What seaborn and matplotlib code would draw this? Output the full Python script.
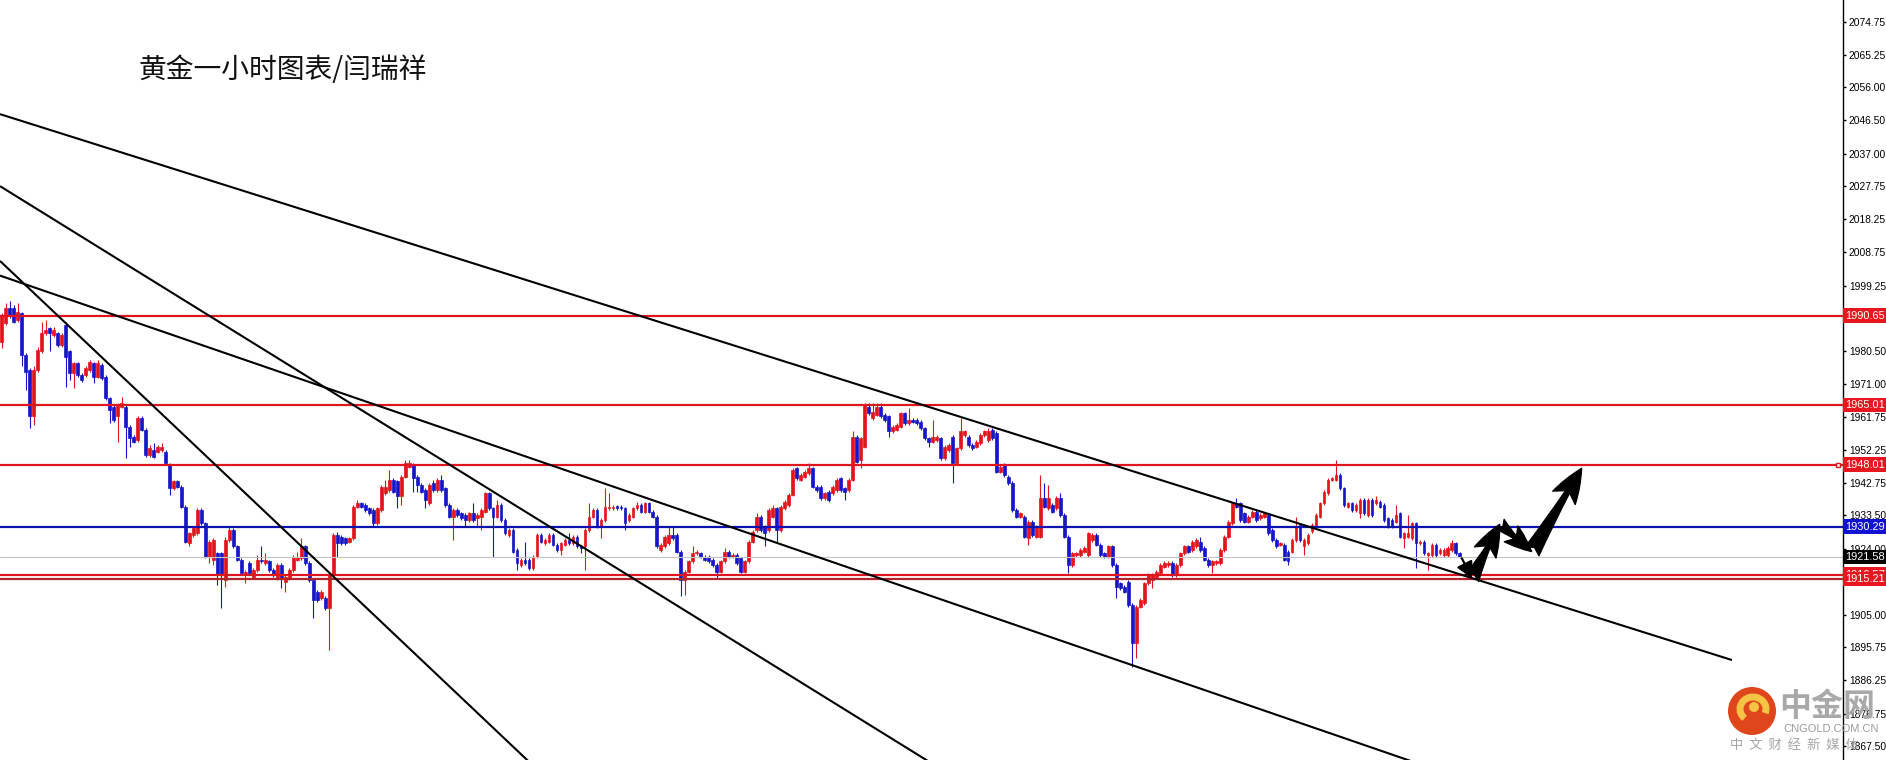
import numpy as np
import matplotlib
matplotlib.use("Agg")
import matplotlib.pyplot as plt
import seaborn as sns
from matplotlib.patches import FancyArrowPatch, Ellipse, Arc
from matplotlib.transforms import blended_transform_factory

# ---------------- data (XAUUSD 1h candles) ----------------
opens = [1983.2,1988.5,1992.7,1992.7,1989.4,1991.3,1979.4,1975.1,1961.8,1975.1,
1980.4,1985.6,1987.0,1985.1,1985.6,1982.3,1988.0,1980.4,1974.2,1977.0,
1973.7,1973.7,1975.1,1977.0,1973.2,1976.5,1973.2,1967.0,1964.6,1961.8,
1964.6,1964.6,1958.9,1956.0,1955.1,1961.3,1957.9,1950.8,1952.2,1951.7,
1952.2,1951.7,1947.9,1941.2,1943.2,1941.7,1936.0,1925.5,1927.9,1928.4,
1935.0,1931.2,1921.7,1920.7,1922.6,1922.6,1915.0,1926.5,1929.3,1924.6,
1920.7,1916.5,1919.8,1916.0,1917.9,1920.7,1919.8,1920.3,1917.9,1915.5,
1919.3,1914.5,1915.5,1917.9,1920.7,1921.2,1924.6,1919.8,1915.0,1911.7,
1909.8,1909.8,1906.9,1916.5,1927.9,1927.4,1926.9,1926.0,1926.9,1936.0,
1937.0,1936.5,1935.5,1935.0,1931.2,1935.0,1939.8,1940.8,1943.6,1943.2,
1938.9,1944.6,1947.4,1947.9,1944.6,1942.2,1940.8,1937.0,1942.7,1940.8,
1943.6,1941.2,1936.5,1933.1,1935.0,1934.1,1933.6,1932.2,1934.1,1932.7,
1933.1,1934.6,1939.8,1935.5,1933.1,1936.5,1932.2,1927.9,1929.3,1923.6,
1919.3,1920.7,1920.7,1918.4,1921.7,1927.9,1925.5,1926.0,1927.9,1925.0,
1923.6,1925.0,1926.5,1925.5,1927.4,1924.6,1924.6,1929.3,1933.1,1935.0,
1930.3,1932.2,1935.5,1935.5,1936.2,1936.0,1935.5,1932.2,1933.1,1935.5,
1936.5,1934.6,1937.0,1934.6,1933.1,1923.6,1924.6,1925.5,1927.9,1927.9,
1923.1,1915.0,1917.4,1920.3,1922.6,1922.6,1921.7,1921.7,1920.7,1919.3,
1917.4,1920.3,1923.1,1921.7,1922.2,1921.2,1917.4,1920.3,1926.0,1929.3,
1933.1,1930.3,1929.3,1933.1,1935.5,1929.3,1935.5,1936.5,1939.3,1947.0,
1943.6,1944.6,1945.5,1947.0,1941.7,1941.7,1938.4,1940.3,1939.8,1940.8,
1944.1,1941.2,1940.8,1943.6,1956.0,1949.4,1953.2,1964.6,1961.3,1962.2,
1964.6,1962.2,1961.8,1957.5,1957.9,1958.9,1962.7,1959.8,1960.8,1960.8,
1960.3,1958.4,1955.6,1954.6,1955.1,1955.6,1949.8,1952.2,1956.0,1948.4,
1952.7,1956.5,1956.0,1953.6,1953.2,1954.1,1956.5,1955.1,1957.9,1957.0,
1946.0,1947.9,1944.6,1942.7,1935.0,1933.1,1933.1,1926.9,1931.7,1927.4,
1927.4,1938.4,1935.5,1936.5,1935.5,1938.4,1933.6,1927.4,1919.3,1922.2,
1922.2,1923.1,1922.2,1926.5,1927.9,1925.0,1922.6,1921.7,1924.6,1919.3,
1914.1,1913.1,1914.5,1907.9,1896.9,1907.4,1908.3,1914.1,1915.0,1916.0,
1916.9,1918.8,1919.3,1919.8,1916.5,1919.3,1922.6,1924.6,1923.6,1924.6,
1926.0,1924.1,1920.7,1919.3,1919.8,1919.8,1923.6,1927.4,1931.2,1937.0,
1937.0,1934.1,1931.7,1933.1,1934.6,1932.7,1933.1,1933.6,1929.3,1926.5,
1925.0,1925.0,1923.1,1923.1,1926.5,1930.8,1924.6,1925.5,1928.9,1930.3,
1933.1,1936.9,1939.8,1943.6,1943.6,1945.1,1941.2,1936.0,1937.0,1935.0,
1934.1,1937.9,1933.6,1937.9,1936.9,1937.4,1936.5,1932.7,1932.2,1931.7,
1934.1,1926.9,1927.4,1926.9,1931.2,1925.5,1926.0,1922.2,1922.2,1925.0,
1922.6,1922.2,1922.2,1923.6,1925.5,1922.6]

highs = [1991.3,1994.2,1994.7,1993.7,1994.2,1991.8,1979.9,1975.6,1976.1,1981.8,
1988.9,1989.4,1987.5,1987.5,1986.1,1985.6,1988.9,1980.8,1977.5,1977.5,
1974.2,1976.1,1978.0,1977.5,1978.0,1977.0,1973.7,1967.5,1965.1,1965.6,
1967.5,1965.1,1959.4,1956.5,1961.8,1961.8,1958.4,1953.6,1954.1,1953.6,
1954.1,1952.2,1948.4,1943.6,1943.6,1942.2,1936.5,1928.8,1930.3,1935.5,
1935.5,1931.7,1926.5,1926.9,1923.1,1923.1,1927.4,1930.3,1929.8,1925.0,
1921.2,1917.9,1920.3,1918.4,1922.2,1924.6,1922.6,1920.7,1918.4,1919.8,
1919.8,1916.5,1918.4,1922.2,1923.1,1926.9,1925.0,1920.3,1915.5,1912.2,
1912.2,1910.3,1916.9,1928.4,1928.8,1927.9,1927.4,1927.4,1936.5,1937.9,
1937.4,1937.0,1936.0,1935.5,1936.0,1942.2,1943.6,1946.5,1944.1,1943.6,
1945.1,1949.4,1949.4,1948.4,1945.1,1942.7,1941.2,1942.7,1943.6,1944.1,
1945.1,1941.7,1937.0,1935.5,1935.5,1934.6,1934.1,1934.6,1937.0,1934.1,
1935.5,1940.3,1940.3,1936.0,1937.9,1937.0,1932.7,1929.8,1929.8,1924.1,
1921.2,1926.0,1921.2,1922.2,1928.4,1928.4,1926.9,1928.4,1928.4,1925.5,
1926.0,1926.9,1928.4,1927.9,1927.9,1925.0,1929.8,1937.0,1935.5,1935.5,
1932.7,1941.2,1939.8,1936.5,1936.5,1936.5,1936.0,1934.1,1936.0,1937.4,
1937.0,1937.4,1937.4,1935.0,1933.6,1925.5,1927.9,1930.3,1930.3,1928.4,
1923.6,1917.9,1920.7,1924.6,1923.6,1923.1,1922.2,1922.2,1921.2,1919.8,
1920.7,1924.1,1923.6,1922.6,1922.6,1921.7,1920.7,1926.5,1929.3,1934.1,
1933.6,1930.8,1935.5,1936.5,1936.0,1936.5,1937.9,1939.8,1947.0,1947.4,
1945.5,1946.5,1948.4,1947.4,1942.2,1942.2,1940.3,1940.8,1942.2,1944.1,
1944.6,1941.7,1944.1,1957.5,1956.5,1956.0,1965.6,1965.6,1965.6,1965.6,
1965.6,1962.7,1962.2,1959.4,1959.8,1963.2,1963.2,1964.1,1961.3,1961.3,
1960.8,1958.9,1956.0,1960.8,1956.5,1956.0,1953.6,1954.1,1956.5,1953.2,
1961.3,1957.9,1956.5,1954.1,1955.1,1957.0,1957.9,1958.4,1958.4,1957.5,
1947.9,1948.4,1945.1,1943.2,1935.5,1934.6,1933.6,1932.2,1932.2,1930.8,
1945.1,1942.7,1942.2,1937.0,1938.9,1939.8,1934.1,1927.9,1923.1,1923.1,
1924.1,1924.6,1928.8,1928.4,1928.4,1925.5,1923.1,1925.0,1925.0,1919.8,
1914.5,1913.6,1915.0,1908.3,1907.9,1909.8,1914.5,1916.9,1916.9,1917.9,
1919.8,1920.3,1920.3,1920.3,1919.8,1923.1,1925.0,1925.0,1926.5,1926.9,
1927.4,1924.6,1921.2,1920.7,1920.7,1924.1,1927.9,1932.2,1937.4,1938.4,
1937.4,1934.6,1933.6,1935.0,1935.0,1934.1,1934.6,1934.1,1929.8,1926.9,
1926.0,1925.5,1923.6,1926.9,1933.1,1931.2,1926.9,1928.4,1931.2,1934.1,
1937.4,1940.8,1944.1,1944.6,1949.4,1945.5,1941.7,1937.4,1937.4,1936.9,
1938.4,1938.4,1938.4,1938.4,1938.9,1937.9,1936.9,1933.1,1932.7,1936.5,
1934.6,1928.8,1933.6,1931.7,1931.7,1926.5,1926.5,1923.1,1925.5,1925.5,
1924.1,1924.1,1924.6,1926.5,1926.0,1923.1]

lows = [1981.3,1988.0,1989.9,1988.5,1988.9,1976.1,1969.4,1958.4,1959.4,1974.6,
1979.9,1985.1,1980.4,1984.6,1981.8,1981.8,1970.3,1972.2,1969.9,1973.2,
1971.8,1973.2,1974.6,1971.3,1972.7,1972.2,1966.5,1959.8,1960.3,1954.6,
1964.1,1949.8,1953.2,1954.1,1954.6,1957.5,1950.3,1950.3,1949.8,1951.3,
1951.7,1947.9,1939.3,1940.8,1941.2,1935.5,1925.5,1924.6,1927.4,1927.9,
1930.8,1921.2,1919.8,1919.3,1913.6,1906.9,1913.1,1926.0,1924.1,1920.3,
1916.5,1914.1,1916.5,1915.5,1917.4,1919.8,1919.3,1917.4,1916.0,1915.0,
1912.6,1911.7,1915.0,1917.4,1920.3,1920.7,1919.3,1914.5,1904.1,1908.8,
1909.3,1906.4,1895.0,1916.0,1921.7,1925.0,1925.0,1925.5,1926.5,1935.5,
1935.5,1934.6,1933.6,1930.3,1930.8,1934.6,1939.3,1940.3,1939.8,1935.5,
1936.5,1944.1,1947.0,1940.3,1940.3,1939.8,1935.5,1936.5,1940.3,1940.3,
1940.3,1936.0,1932.7,1926.5,1933.1,1932.2,1930.3,1931.7,1931.7,1930.3,
1929.3,1934.1,1935.0,1921.7,1932.7,1931.7,1927.9,1927.4,1922.6,1917.9,
1918.8,1919.3,1917.9,1917.9,1921.2,1925.5,1925.0,1925.5,1924.6,1923.1,
1922.2,1924.6,1925.0,1925.0,1924.1,1922.6,1917.9,1928.8,1932.7,1929.8,
1926.9,1931.7,1935.0,1935.0,1935.0,1935.0,1929.3,1931.7,1932.7,1935.0,
1934.1,1934.1,1934.1,1932.7,1924.1,1923.1,1924.1,1925.0,1926.5,1922.6,
1910.3,1910.7,1916.9,1919.8,1922.2,1921.2,1920.3,1919.8,1918.8,1915.5,
1916.9,1919.8,1921.2,1921.2,1919.3,1916.9,1916.9,1919.8,1925.5,1928.8,
1928.8,1924.6,1928.8,1932.7,1925.5,1928.8,1935.0,1936.0,1938.9,1943.6,
1943.2,1944.1,1945.1,1941.2,1940.3,1937.9,1937.9,1937.4,1939.3,1940.3,
1940.3,1937.9,1940.3,1943.2,1948.4,1947.0,1952.7,1962.2,1960.8,1961.8,
1961.3,1960.3,1956.0,1957.0,1957.5,1958.4,1959.4,1959.4,1959.8,1959.4,
1957.9,1955.1,1953.2,1954.1,1954.6,1949.4,1949.4,1951.7,1942.7,1947.9,
1952.2,1956.0,1953.2,1952.2,1952.7,1953.6,1956.0,1954.6,1955.1,1945.5,
1945.5,1944.6,1942.2,1934.6,1932.7,1932.7,1926.9,1925.0,1927.4,1926.9,
1926.9,1935.5,1935.0,1934.1,1935.0,1933.1,1926.9,1916.9,1918.8,1921.7,
1921.7,1922.6,1921.7,1926.0,1924.6,1921.7,1921.2,1921.2,1918.8,1909.8,
1912.2,1911.2,1907.4,1890.2,1892.6,1906.9,1907.9,1913.6,1912.6,1915.5,
1916.5,1918.4,1918.8,1916.0,1916.0,1918.8,1922.2,1922.6,1923.1,1924.1,
1923.1,1920.3,1918.8,1916.9,1919.3,1919.3,1923.1,1926.9,1930.8,1935.5,
1931.7,1931.2,1931.2,1932.7,1931.7,1932.2,1932.7,1927.9,1926.0,1924.1,
1924.6,1920.3,1919.3,1922.6,1926.0,1926.0,1922.2,1925.0,1928.4,1929.8,
1932.7,1936.5,1939.3,1943.2,1943.2,1940.8,1936.0,1935.5,1934.6,1934.6,
1932.7,1933.6,1933.1,1933.1,1936.5,1935.5,1931.7,1929.8,1929.8,1931.2,
1926.9,1924.1,1926.9,1926.5,1918.4,1925.0,1922.2,1917.9,1921.7,1921.7,
1922.2,1921.7,1921.7,1923.1,1922.2,1921.2]

closes = [1990.4,1992.7,1990.4,1988.9,1991.8,1979.4,1974.6,1961.8,1975.1,1980.8,
1985.6,1986.6,1985.6,1986.6,1982.3,1985.1,1978.9,1974.2,1977.0,1973.7,
1972.2,1975.6,1977.5,1973.2,1977.0,1972.7,1967.0,1963.7,1960.8,1965.1,
1965.6,1958.9,1955.6,1954.6,1961.3,1957.9,1950.8,1952.7,1950.3,1953.2,
1953.2,1948.4,1941.2,1943.2,1941.7,1936.0,1926.0,1928.4,1929.8,1935.0,
1931.2,1921.7,1926.0,1926.5,1916.5,1916.5,1926.5,1929.3,1924.6,1920.7,
1916.9,1917.4,1916.9,1917.9,1920.7,1920.3,1920.7,1917.9,1916.5,1919.3,
1915.5,1916.0,1917.9,1921.7,1921.7,1924.6,1919.8,1915.0,1909.3,1909.3,
1911.7,1906.9,1916.5,1927.9,1925.5,1925.5,1925.5,1926.9,1936.0,1937.0,
1936.0,1935.0,1934.1,1931.2,1935.5,1941.7,1941.7,1943.6,1940.3,1938.9,
1944.6,1948.4,1948.4,1944.1,1942.2,1940.3,1937.9,1942.2,1940.8,1943.6,
1940.8,1936.5,1933.1,1935.0,1933.6,1932.7,1932.2,1934.1,1932.2,1933.6,
1935.0,1939.8,1935.5,1933.1,1936.5,1932.2,1928.4,1929.3,1923.1,1919.8,
1920.7,1919.8,1918.4,1921.7,1927.9,1926.0,1926.5,1927.9,1925.0,1923.6,
1925.5,1926.5,1925.5,1927.4,1924.6,1924.1,1929.3,1933.1,1935.0,1930.3,
1932.2,1936.0,1936.0,1936.0,1935.5,1935.5,1931.2,1933.6,1935.5,1936.5,
1934.6,1937.0,1934.6,1933.1,1924.6,1925.0,1927.4,1927.9,1926.9,1923.1,
1915.0,1917.4,1920.3,1922.6,1923.1,1921.7,1920.7,1920.3,1919.3,1917.4,
1920.3,1923.1,1921.7,1922.2,1919.8,1917.4,1920.3,1926.0,1928.8,1933.1,
1929.3,1928.4,1935.0,1935.5,1929.3,1936.0,1937.4,1939.3,1946.5,1944.1,
1945.1,1946.0,1947.0,1941.7,1940.8,1938.4,1939.8,1937.9,1941.7,1943.6,
1940.8,1940.3,1943.6,1956.0,1948.9,1955.6,1965.1,1962.7,1963.2,1964.6,
1961.8,1960.8,1957.5,1958.9,1959.4,1962.7,1959.8,1960.8,1960.3,1959.8,
1958.4,1955.6,1954.6,1956.0,1956.0,1949.8,1953.2,1953.6,1948.4,1952.7,
1957.5,1957.5,1953.6,1952.7,1954.6,1956.5,1957.5,1957.5,1955.6,1946.0,
1947.4,1945.1,1942.7,1935.0,1933.1,1934.1,1927.4,1931.7,1927.9,1930.3,
1938.4,1936.0,1938.4,1934.6,1938.4,1933.6,1927.4,1919.3,1922.6,1922.6,
1923.6,1924.1,1928.4,1927.9,1925.0,1922.2,1921.7,1924.6,1919.3,1913.1,
1912.6,1911.7,1907.9,1896.9,1907.4,1909.3,1914.1,1916.5,1916.5,1917.4,
1919.3,1919.8,1919.8,1916.5,1919.3,1922.6,1924.6,1923.1,1926.0,1926.5,
1923.6,1920.7,1919.3,1920.3,1920.3,1923.6,1927.4,1931.7,1937.0,1936.0,
1932.2,1931.7,1933.1,1934.6,1932.2,1933.6,1934.1,1928.4,1926.5,1924.6,
1925.5,1920.7,1920.3,1926.5,1930.3,1926.5,1926.5,1927.9,1930.8,1933.6,
1936.9,1940.3,1943.6,1944.1,1945.1,1941.2,1936.5,1937.0,1935.0,1936.5,
1937.9,1934.1,1937.9,1933.6,1937.9,1936.0,1932.2,1930.3,1930.3,1933.6,
1927.4,1928.4,1928.4,1931.2,1925.5,1926.0,1922.6,1922.6,1925.0,1922.2,
1923.6,1923.6,1924.1,1925.5,1922.6,1921.7]

# price scale labels on the right axis
y_tick_values = [2074.75, 2065.25, 2056.00, 2046.50, 2037.00, 2027.75, 2018.25,
                 2008.75, 1999.25, 1980.50, 1971.00, 1961.75, 1952.25, 1942.75,
                 1933.50, 1924.00, 1905.00, 1895.75, 1886.25, 1876.75, 1867.50]

# horizontal support / resistance levels
red_levels = [1990.65, 1965.01, 1948.01, 1916.57]
dark_red_level = 1915.21
blue_level = 1930.29
last_price = 1921.58

# trend lines: (start bar, start price) -> (end bar, end price)
trend_x0 = [-0.43, -0.43, -0.43, -0.43]
trend_y0 = [2048.3, 2027.7, 2006.3, 2002.1]
trend_x1 = [433.1, 250.5, 144.0, 386.3]
trend_y1 = [1892.1, 1850.0, 1850.0, 1850.0]

# forecast arrow path (bar, price)
arrow_x = [365.5, 368.0, 375.0, 383.0, 395.5]
arrow_y = [1921.2, 1915.5, 1931.0, 1923.1, 1947.0]

title_text = "黄金一小时图表/闫瑞祥"

# ---------------- style ----------------
sns.set_theme(style="white")
plt.rcParams['font.family'] = ['Liberation Sans', 'DejaVu Sans']
CJK = ['Noto Sans CJK SC', 'DejaVu Sans']

W, H = 1886, 760
fig = plt.figure(figsize=(W / 100, H / 100), dpi=100)
fig.patch.set_facecolor('white')
AX_RIGHT = 1843
ax = fig.add_axes([0, 0, AX_RIGHT / W, 1])
ax.set_facecolor('white')

RED = '#e3141c'
BLUE = '#1616c8'

o = np.array(opens); h = np.array(highs); l = np.array(lows); c = np.array(closes)
x = np.arange(len(o))
up = c >= o
cols = np.where(up, RED, BLUE)

# wicks
ax.vlines(x, l, h, colors=cols, linewidth=0.8, zorder=2)
# bodies
ax.bar(x, np.abs(c - o), bottom=np.minimum(o, c), width=0.7,
       color=cols, edgecolor=cols, linewidth=0.5, zorder=2)

# horizontal levels
ax.axhline(last_price, color='#c4c4c4', lw=0.8, zorder=2.5)
for lv in red_levels:
    ax.axhline(lv, color='#e0161e', lw=1.6, zorder=3)
ax.axhline(dark_red_level, color='#b2232c', lw=1.6, zorder=3)
ax.axhline(blue_level, color='#0c12b0', lw=1.6, zorder=3)

# trend lines
for xa, ya, xb, yb in zip(trend_x0, trend_y0, trend_x1, trend_y1):
    ax.plot([xa, xb], [ya, yb], color='black', lw=1.5, zorder=4,
            solid_capstyle='butt')

# arrows
small = FancyArrowPatch((arrow_x[0], arrow_y[0]), (arrow_x[1], arrow_y[1]),
                        arrowstyle='-|>,head_length=0.6,head_width=0.32',
                        mutation_scale=16, lw=1.6, color='black',
                        shrinkA=0, shrinkB=0, zorder=6)
ax.add_patch(small)
specs = [(0.55, 0.42, 0.26, 42), (0.55, 0.42, 0.26, 36), (0.5, 0.38, 0.24, 50)]
for k, (hl, hw, tw, ms) in enumerate(specs):
    a = FancyArrowPatch((arrow_x[k + 1], arrow_y[k + 1]), (arrow_x[k + 2], arrow_y[k + 2]),
                        arrowstyle=f'fancy,head_length={hl},head_width={hw},tail_width={tw}',
                        mutation_scale=ms, color='black', lw=0.8,
                        shrinkA=0, shrinkB=0, zorder=6)
    ax.add_patch(a)

# axes limits / spines
ax.set_xlim(-0.43, 460.9)
ax.set_ylim(1863.5, 2080.96)
ax.set_xticks([])
ax.yaxis.tick_right()
ax.set_yticks(y_tick_values)
ax.set_yticklabels([f'{v:.2f}' for v in y_tick_values])
ax.tick_params(axis='y', which='both', right=True, left=False, direction='out',
               length=2.5, width=1.0, pad=1.8, labelsize=7.4, colors='black')
for s in ['top', 'left', 'bottom']:
    ax.spines[s].set_visible(False)
ax.spines['right'].set_visible(True)
ax.spines['right'].set_color('black')
ax.spines['right'].set_linewidth(1.0)

# price label boxes on the axis
tr = blended_transform_factory(ax.transAxes, ax.transData)
def price_box(v, fc):
    ax.text(1.0 + 2.0 / AX_RIGHT, v, f'{v:.2f}', transform=tr, ha='left', va='center',
            fontsize=7.9, color='white', clip_on=False, zorder=10,
            bbox=dict(boxstyle='square,pad=0.2', fc=fc, ec=fc, lw=0))
for lv in red_levels:
    price_box(lv, '#e8161e')
price_box(dark_red_level, '#e8161e')
price_box(blue_level, '#1212d2')
price_box(last_price, '#000000')
# small marker on the 1948.01 level
ax.plot([1.0 - 5 / AX_RIGHT], [red_levels[2]], transform=tr, marker='s', ms=3.2,
        mfc='white', mec='#e0161e', mew=1.0, clip_on=False, zorder=9)

# title
ax.text(138 / AX_RIGHT, 1 - 70 / H, title_text, transform=ax.transAxes,
        fontsize=20, family=CJK, color='#111111', ha='left', va='center', zorder=10)

# watermark (bottom right)
fig.add_artist(Ellipse((1752 / W, 1 - 711 / H), 48 / W, 48 / H, transform=fig.transFigure,
                       fc='#e0461c', ec='none', zorder=20))
fig.add_artist(Arc((1753 / W, 1 - 709 / H), 26 / W, 24 / H, theta1=-40, theta2=250,
                   transform=fig.transFigure, color='#f6c445', lw=5, zorder=21))
fig.add_artist(Ellipse((1754 / W, 1 - 707 / H), 10 / W, 10 / H, transform=fig.transFigure,
                       fc='#f6c445', ec='none', zorder=21))
fig.text(1779 / W, 1 - 707 / H, '中金网', fontsize=23, weight='bold', family=CJK,
         color='#a9a9a9', ha='left', va='center', zorder=20)
fig.text(1783 / W, 1 - 729 / H, 'CNGOLD.COM.CN', fontsize=8, color='#9c9c9c',
         ha='left', va='center', zorder=20)
fig.text(1730 / W, 1 - 745 / H, '中  文  财  经  新  媒  体', fontsize=9.5, family=CJK,
         color='#a6a6a6', ha='left', va='center', zorder=20)

fig.savefig('out.png', dpi=100, facecolor='white')
